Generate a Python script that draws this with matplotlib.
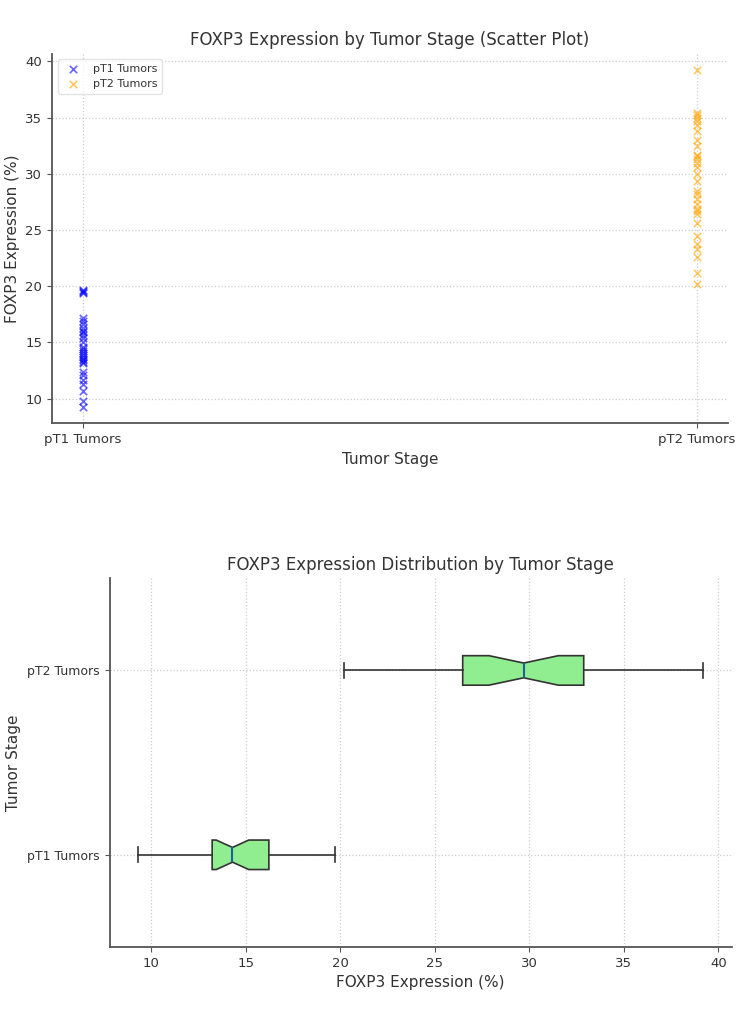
import matplotlib
matplotlib.use("Agg")
import matplotlib.pyplot as plt

# FOXP3 expression (%)
pt1_values = [9.3, 9.8, 10.7, 11.3, 11.7, 12.1, 12.4, 13.2, 13.3, 13.4,
              13.5, 13.7, 13.9, 14.1, 14.2, 14.4, 14.6, 15.0, 15.4, 15.7,
              15.9, 16.0, 16.3, 16.6, 16.9, 17.2, 19.4, 19.5, 19.6, 19.7]
pt2_values = [20.2, 21.2, 22.6, 23.3, 23.8, 24.5, 25.6, 26.4, 26.7, 26.9,
              27.3, 27.8, 28.2, 28.5, 29.4, 30.0, 30.6, 31.0, 31.3, 31.6,
              31.7, 32.5, 33.0, 33.8, 34.3, 34.7, 35.0, 35.2, 35.4, 39.2]
stages = ["pT1 Tumors", "pT2 Tumors"]

plt.rcParams["font.family"] = "DejaVu Sans"
plt.rcParams["axes.edgecolor"] = "#555555"
plt.rcParams["xtick.color"] = "#555555"
plt.rcParams["ytick.color"] = "#555555"
plt.rcParams["xtick.labelcolor"] = "#333333"
plt.rcParams["ytick.labelcolor"] = "#333333"
plt.rcParams["text.color"] = "#333333"
plt.rcParams["axes.labelcolor"] = "#333333"

fig = plt.figure(figsize=(7.36, 10.3), dpi=100)
ax1 = fig.add_axes([0.0707, 0.589, 0.918, 0.359])
ax2 = fig.add_axes([0.149, 0.0806, 0.845, 0.358])

for ax in (ax1, ax2):
    for side in ("top", "right"):
        ax.spines[side].set_visible(False)
    ax.spines["left"].set_linewidth(1.3)
    ax.spines["bottom"].set_linewidth(1.3)
    ax.tick_params(labelsize=9.5, length=3.5)
    ax.grid(True, linestyle=":", color="#cccccc", linewidth=0.9)
    ax.set_axisbelow(True)

# top: scatter
ax1.scatter([stages[0]] * len(pt1_values), pt1_values, marker="x",
            color="blue", alpha=0.6, s=28, linewidths=1.2, label=stages[0])
ax1.scatter([stages[1]] * len(pt2_values), pt2_values, marker="x",
            color="orange", alpha=0.6, s=28, linewidths=1.2, label=stages[1])
ax1.set_title("FOXP3 Expression by Tumor Stage (Scatter Plot)", fontsize=12)
ax1.set_xlabel("Tumor Stage", fontsize=11)
ax1.set_ylabel("FOXP3 Expression (%)", fontsize=11)
ax1.yaxis.set_label_coords(-0.047, 0.5)
ax1.legend(loc="upper left", fontsize=8, framealpha=0.8, edgecolor="#dddddd")

# bottom: notched horizontal boxplot
bp = ax2.boxplot([pt1_values, pt2_values], notch=True, vert=False,
                 patch_artist=True, widths=0.16)
for box in bp["boxes"]:
    box.set_facecolor("lightgreen")
    box.set_edgecolor("#333333")
    box.set_linewidth(1.2)
for key in ("whiskers", "caps"):
    for line in bp[key]:
        line.set_color("#333333")
        line.set_linewidth(1.2)
for med in bp["medians"]:
    med.set_color("#1f5f9f")
    med.set_linewidth(1.5)
ax2.set_yticks([1, 2])
ax2.set_yticklabels(stages, fontsize=9)
ax2.set_title("FOXP3 Expression Distribution by Tumor Stage", fontsize=12)
ax2.set_xlabel("FOXP3 Expression (%)", fontsize=11)
ax2.set_ylabel("Tumor Stage", fontsize=11)
ax2.yaxis.set_label_coords(-0.142, 0.5)

fig.savefig("out.png", dpi=100)
